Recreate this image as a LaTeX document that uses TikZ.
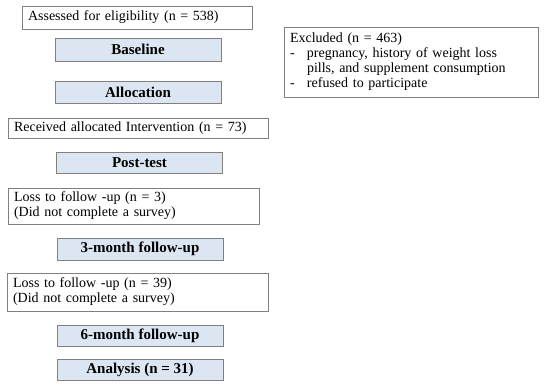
\documentclass[tikz,border=0pt]{standalone}
\usepackage{fontspec}
\setmainfont{Liberation Serif}
\usepackage{xcolor}
\definecolor{edge}{HTML}{808080}
\definecolor{paleblue}{HTML}{DCE6F2}
\usepackage{tikz}
\usetikzlibrary{positioning}
\tikzset{
  txtbox/.style  ={draw=edge,fill=white,line width=0.8pt,font=\fontsize{14}{15}\selectfont,
                   align=left,inner xsep=6pt,inner ysep=0pt},
  stagebox/.style={draw=edge,fill=paleblue,line width=0.8pt,
                   font=\fontsize{15}{16}\selectfont\bfseries,align=center,
                   minimum width=166pt,inner sep=0pt},
}

\begin{document}
\begin{tikzpicture}[x=1pt,y=-1pt]
\useasboundingbox (0,0) rectangle (550,388);
% left column
\node[txtbox,text width=218pt,minimum height=23pt] (assess) at (137,17.5)
  {Assessed for eligibility (n = 538)};
\node[stagebox,minimum height=23pt] (base) at (138,49.5) {Baseline};
\node[stagebox,minimum height=22pt] (alloc) at (138,92) {Allocation};
\node[txtbox,text width=248pt,minimum height=20pt] (recv) at (138,128)
  {Received allocated Intervention (n = 73)};
\node[stagebox,minimum height=21pt] (post) at (139.5,162.5) {Post-test};
\node[txtbox,text width=239pt,minimum height=36pt] (lossA) at (133.5,206)
  {Loss to follow -up (n = 3)\\(Did not complete a survey)};
\node[stagebox,minimum height=22pt] (fuA) at (140,249) {3-month follow-up};
\node[txtbox,text width=249pt,minimum height=38pt] (lossB) at (137.5,292)
  {Loss to follow -up (n = 39)\\(Did not complete a survey)};
\node[stagebox,minimum height=21pt] (fuB) at (140,335.5) {6-month follow-up};
\node[stagebox,minimum height=21pt] (anal) at (140,369.5) {Analysis (n = 31)};
% exclusions
\node[txtbox,text width=242pt,minimum height=70pt] (excl) at (411,62)
  {Excluded (n = 463)\\
   \makebox[17pt][l]{-}pregnancy, history of weight loss\\
   \hspace*{17pt}pills, and supplement consumption\\
   \makebox[17pt][l]{-}refused to participate};
\end{tikzpicture}
\end{document}
